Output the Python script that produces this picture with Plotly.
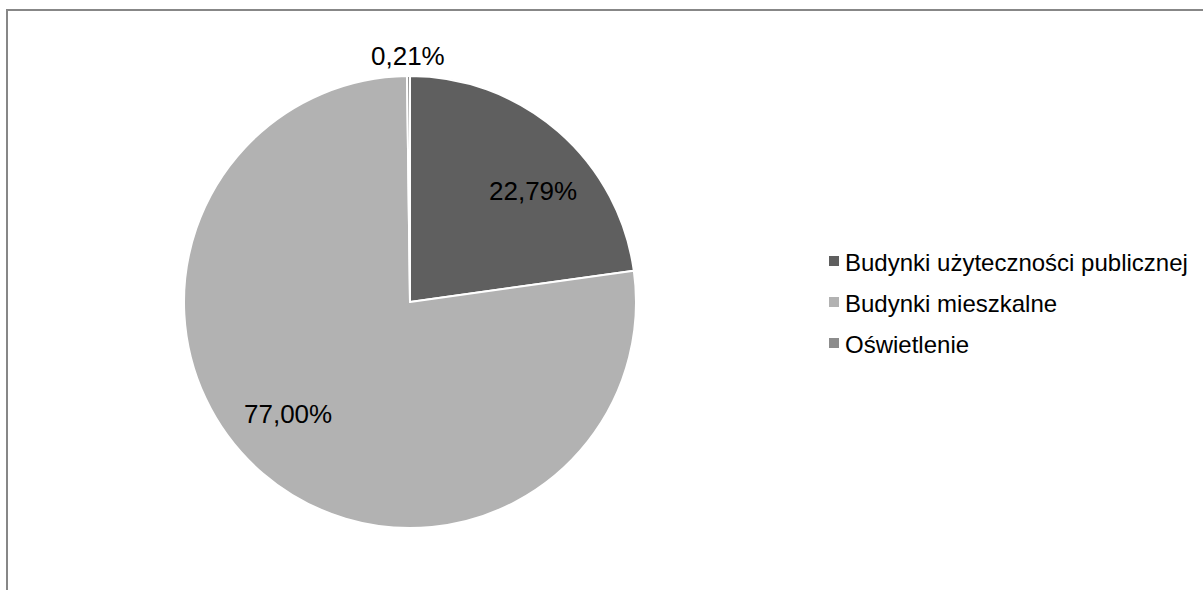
import math
import plotly.graph_objects as go

# Udział zużycia energii według sektorów
categories = ["Budynki użyteczności publicznej", "Budynki mieszkalne", "Oświetlenie"]
shares = [22.79, 77.00, 0.21]
slice_colors = ["#5f5f5f", "#b2b2b2", "#8c8c8c"]
label_inside = [True, True, False]

W, H = 1203, 590

# pie geometry in pixels
CX, CY, R = 410, 302, 226
LABEL_FONT = dict(family="Liberation Sans, Arial, sans-serif", size=26, color="black")
LEGEND_FONT = dict(family="Liberation Sans, Arial, sans-serif", size=24, color="black")


def px_x(x):
    return x / W


def px_y(y):
    return 1 - y / H


def fmt_pct(v):
    return f"{v:.2f}".replace(".", ",") + "%"


fig = go.Figure(
    go.Pie(
        labels=categories,
        values=shares,
        sort=False,
        direction="clockwise",
        rotation=0,
        marker=dict(colors=slice_colors, line=dict(color="white", width=2)),
        textinfo="none",
        hoverinfo="label+percent",
        showlegend=False,
        domain=dict(x=[px_x(CX - R), px_x(CX + R)], y=[px_y(CY + R), px_y(CY - R)]),
    )
)

annotations = []
shapes = []

# data labels placed from each slice's angular position
total = sum(shares)
start = 0.0
for share, inside in zip(shares, label_inside):
    pct = share / total * 100
    mid = (start + share / 2) / total * 360
    start += share
    if inside:
        ang = math.radians(mid + 7)
        dist = 0.733 * R
    else:
        ang = math.radians(mid)
        dist = R + 20
    x = CX + dist * math.sin(ang)
    y = CY - dist * math.cos(ang)
    annotations.append(
        dict(
            x=px_x(x), y=px_y(y), xref="paper", yref="paper",
            text=fmt_pct(pct), showarrow=False,
            xanchor="center", yanchor="middle", font=LABEL_FONT,
        )
    )

# legend: square swatch + category name
LEG_X, LEG_Y0, LEG_STEP, SW = 829, 261, 41, 10
for i, (name, color) in enumerate(zip(categories, slice_colors)):
    yc = LEG_Y0 + i * LEG_STEP
    shapes.append(
        dict(
            type="rect", xref="paper", yref="paper",
            x0=px_x(LEG_X), x1=px_x(LEG_X + SW),
            y0=px_y(yc + SW / 2), y1=px_y(yc - SW / 2),
            fillcolor=color, line=dict(width=0),
        )
    )
    annotations.append(
        dict(
            x=px_x(LEG_X + SW + 4), y=px_y(yc + 1), xref="paper", yref="paper",
            text=name, showarrow=False,
            xanchor="left", yanchor="middle", font=LEGEND_FONT,
        )
    )

# chart frame
shapes.append(
    dict(
        type="rect", xref="paper", yref="paper",
        x0=px_x(7), x1=1.02, y0=-0.02, y1=px_y(10),
        line=dict(color="#878787", width=2),
        fillcolor="rgba(0,0,0,0)", layer="below",
    )
)

fig.update_layout(
    width=W,
    height=H,
    margin=dict(l=0, r=0, t=0, b=0),
    paper_bgcolor="white",
    plot_bgcolor="white",
    separators=",.",
    showlegend=False,
    annotations=annotations,
    shapes=shapes,
)

fig.write_html("out.html")
